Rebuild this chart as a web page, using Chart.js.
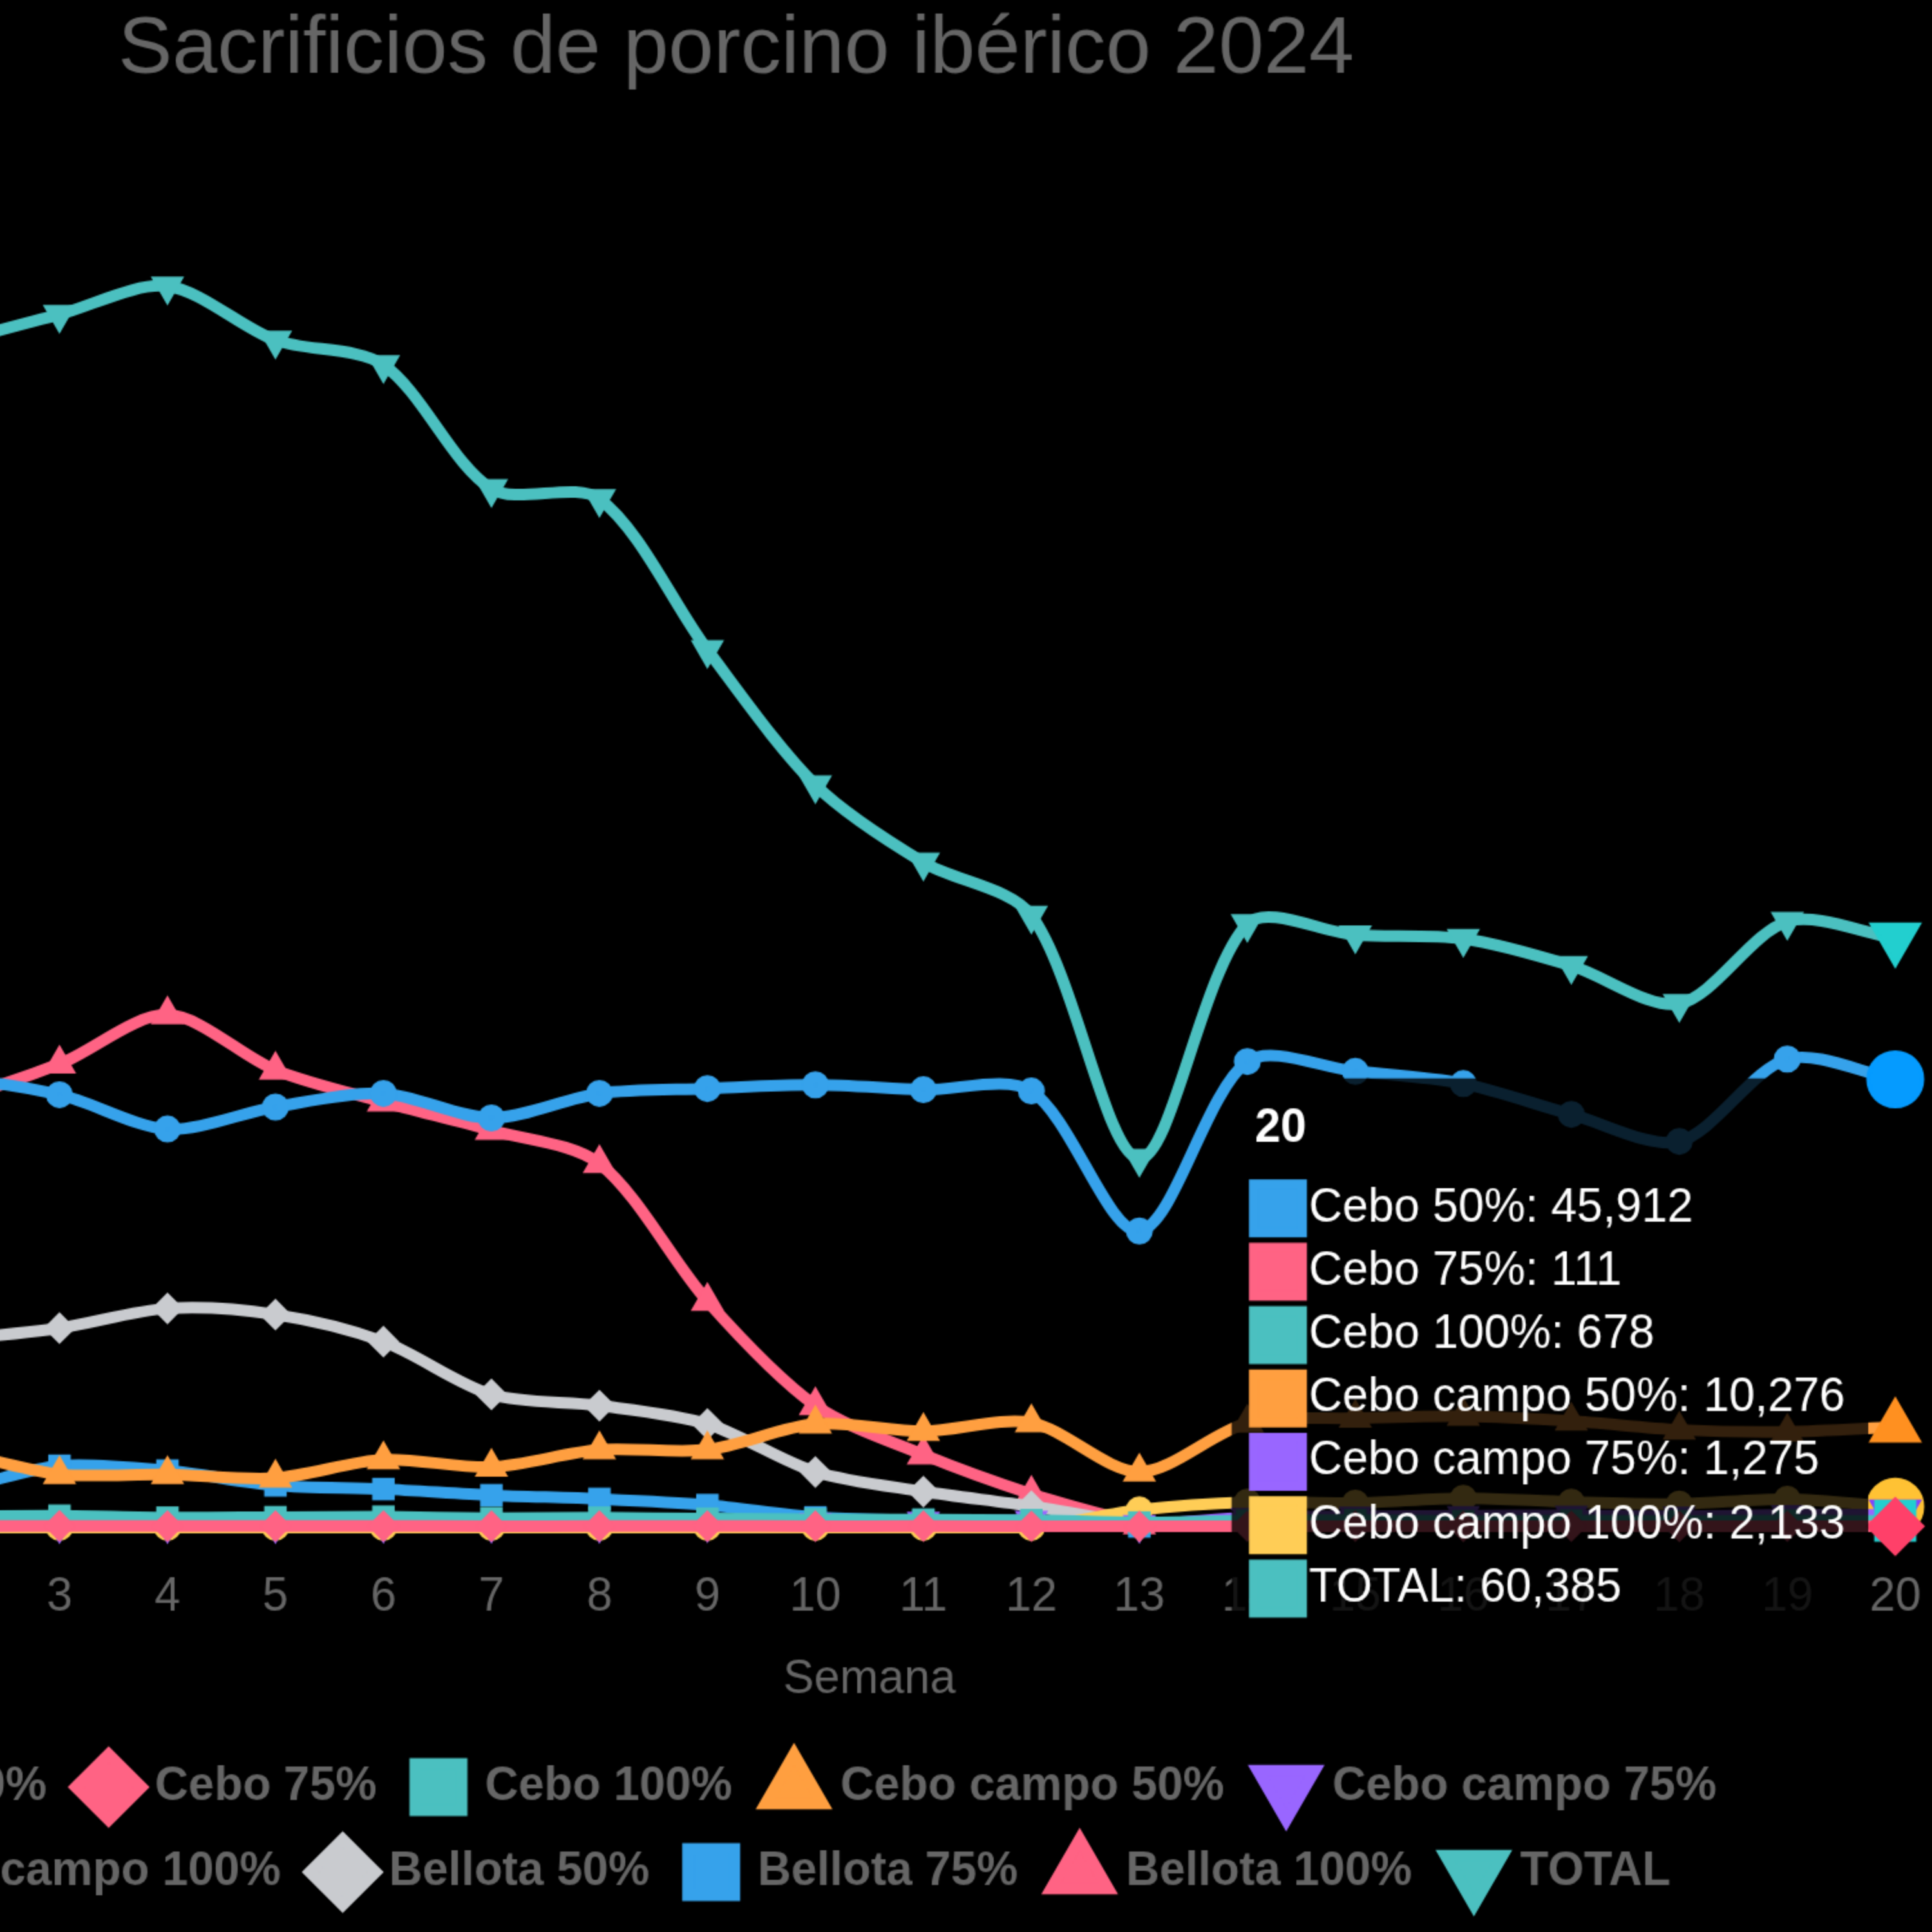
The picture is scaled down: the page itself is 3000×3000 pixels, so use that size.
<!DOCTYPE html>
<html>
<head>
<meta charset="utf-8">
<title>Sacrificios de porcino ibérico 2024</title>
<script src="https://cdn.jsdelivr.net/npm/chart.js"></script>
<style>
  body { margin: 0; padding: 0; background: #000; }
  #box { position: relative; width: 3000px; height: 3000px; overflow: hidden; }
  #status { position: absolute; left: 50px; top: 1400px; color: #f00; font: 60px sans-serif; }
</style>
</head>
<body>
<div id="box">
<!-- chart laid out at 620x510 and shown 6x larger, its left/top part falls off screen -->
<canvas id="lineChart" width="620" height="510" style="position:absolute;left:-717px;top:-57px;width:3720px;height:3060px;"></canvas>
<div id="status"></div>
</div>
<script>
var weeks = ["1", "2", "3", "4", "5", "6", "7", "8", "9", "10", "11", "12", "13", "14", "15", "16", "17", "18", "19", "20"];

var cebo50 = [44900, 45850, 44340, 40820, 43080, 44470, 41950, 44470, 44970, 45350, 44850, 44720, 30370, 47740, 46730, 45470, 42330, 39560, 47990, 45912];
var cebo75 = [150, 140, 160, 150, 140, 150, 130, 140, 150, 130, 140, 120, 110, 120, 130, 110, 120, 110, 120, 111];
var cebo100 = [1200, 1150, 1200, 1000, 1050, 1100, 950, 1000, 900, 850, 800, 750, 500, 700, 750, 650, 700, 650, 700, 678];
var ceboCampo50 = [7200, 7600, 5440, 5440, 5060, 6950, 6190, 7960, 7960, 10600, 9850, 10730, 5690, 10700, 11200, 11400, 10900, 10000, 9800, 10276];
var ceboCampo75 = [200, 200, 250, 250, 250, 300, 300, 300, 350, 500, 600, 700, 300, 1000, 1150, 1200, 1250, 1150, 1300, 1275];
var ceboCampo100 = [0, 0, 0, 0, 0, 0, 0, 0, 0, 0, 0, 0, 1800, 2600, 2500, 3000, 2600, 2400, 2900, 2133];
var bellota50 = [18600, 19290, 20420, 22440, 21810, 19040, 13620, 12490, 10600, 5690, 3680, 2170, 300, null, null, null, null, null, null, null];
var bellota75 = [3600, 3900, 6320, 5820, 4310, 3930, 3300, 2920, 2290, 1030, 700, 400, 100, null, null, null, null, null, null, null];
var bellota100 = [41500, 43840, 47490, 52530, 46860, 43590, 40690, 37290, 23190, 12490, 7450, 3420, 300, null, null, null, null, null, null, null];
var total = [117500, 121270, 124290, 127190, 121650, 119130, 106410, 105400, 89920, 76070, 68140, 62720, 37800, 61840, 60710, 60330, 57560, 53660, 62090, 60385];

var seriesNames = ["Cebo 50%", "Cebo 75%", "Cebo 100%", "Cebo campo 50%", "Cebo campo 75%", "Cebo campo 100%", "Bellota 50%", "Bellota 75%", "Bellota 100%", "TOTAL"];
var seriesData = [cebo50, cebo75, cebo100, ceboCampo50, ceboCampo75, ceboCampo100, bellota50, bellota75, bellota100, total];

// default chart.js palette and point styles, in the order they cycle
var colors = ["rgb(54, 162, 235)", "rgb(255, 99, 132)", "rgb(75, 192, 192)", "rgb(255, 159, 64)", "rgb(153, 102, 255)", "rgb(255, 205, 86)", "rgb(201, 203, 207)"];
var styles = ["circle", "rectRot", "rect", "triangle", "triangle"];
var rotations = [0, 0, 0, 0, 180];

function buildLineChart() {
  Chart.defaults.font.family = "'Liberation Sans', Arial, Helvetica, sans-serif";
  Chart.defaults.color = "#666";

  var datasets = seriesNames.map(function (name, i) {
    var c = colors[i % colors.length];
    return {
      label: name,
      data: seriesData[i],
      borderColor: c,
      backgroundColor: c,
      borderWidth: 3,
      tension: 0.3,
      pointStyle: styles[i % styles.length],
      pointRotation: rotations[i % rotations.length],
      pointRadius: 2,
      pointHoverRadius: 7,
      clip: false,
    };
  });

  var ctxL = document.getElementById("lineChart").getContext("2d");
  window.myLineChart = new Chart(ctxL, {
    type: "line",
    data: { labels: weeks, datasets: datasets },
    options: {
      responsive: false,
      devicePixelRatio: 3,
      animation: false,
      events: [],
      locale: "en-US",
      interaction: { mode: "index", intersect: false },
      plugins: {
        title: {
          display: true,
          text: "Sacrificios de porcino ibérico 2024",
          font: { size: 21, weight: "normal" },
          padding: { top: 10, bottom: 16 },
        },
        legend: {
          position: "bottom",
          labels: { usePointStyle: true, font: { size: 12, weight: "bold" } },
        },
        tooltip: { mode: "index", intersect: false },
      },
      scales: {
        x: { title: { display: true, text: "Semana", padding: { top: 4, bottom: 4.4 } } },
        y: {
          beginAtZero: true,
          max: 140000,
          ticks: { stepSize: 20000 },
          afterFit: function (scale) { scale.width = 79; },
        },
      },
    },
  });

  // show the tooltip and the hovered points of the last week
  var last = weeks.length - 1;
  var active = [];
  seriesData.forEach(function (values, i) {
    if (values[last] !== null) active.push({ datasetIndex: i, index: last });
  });
  var pt = window.myLineChart.getDatasetMeta(0).data[last];
  window.myLineChart.setActiveElements(active);
  window.myLineChart.tooltip.setActiveElements(active, { x: pt.x, y: pt.y });
  window.myLineChart.update();
}

try {
  buildLineChart();
} catch (error) {
  document.getElementById("status").textContent = "ERR: " + error;
}
</script>
</body>
</html>
